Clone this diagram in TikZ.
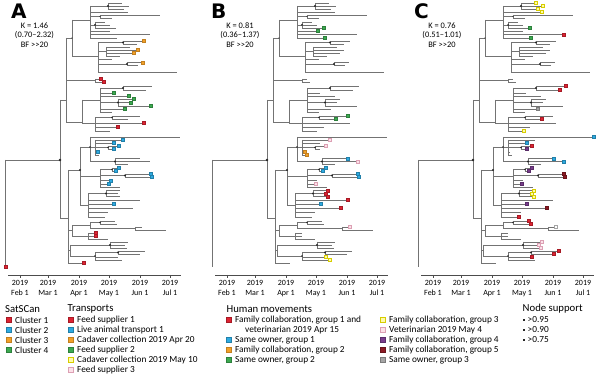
\documentclass[tikz,border=0pt]{standalone}
\usepackage{fontspec}
\setmainfont{Carlito}
\newfontfamily\letterfont{DejaVu Sans}
\definecolor{treegray}{RGB}{115,115,115}
\definecolor{cRed}{RGB}{222,35,50}
\definecolor{cBlue}{RGB}{45,170,225}
\definecolor{cOrange}{RGB}{242,160,40}
\definecolor{cGreen}{RGB}{60,170,80}
\definecolor{cYellowE}{RGB}{215,205,0}
\definecolor{cYellowF}{RGB}{255,250,170}
\definecolor{cPinkE}{RGB}{220,160,180}
\definecolor{cPinkF}{RGB}{252,225,232}
\definecolor{cPurple}{RGB}{120,60,140}
\definecolor{cDRed}{RGB}{140,25,35}
\definecolor{cGray}{RGB}{165,165,165}
\newcommand\hb[3]{\draw[tl] (#1,#3) -- (#2,#3);}
\newcommand\vb[3]{\draw[tl] (#1,#2) -- (#1,#3);}
\newcommand\nd[3]{\fill[ndot] (#1,#2) circle[radius=#3];}
\newcommand\mk[3]{\node[mk,#3] at (#1+1,#2) {};}
\newcommand\drawtree{%
% root and main node
\vb{5}{160}{267}\hb{5}{60}{160}
\vb{60}{100}{218}\hb{60}{66}{100}\hb{60}{68}{218}
% U
\vb{66}{38}{122}\hb{66}{72}{38}\hb{66}{95}{80.5}\hb{66}{82}{122}
% T
\vb{72}{20}{56}\hb{72}{90}{20}\hb{72}{98}{56}
% T1
\vb{90}{6}{38}
\hb{90}{108}{6}\vb{108}{3}{9}\hb{108}{122}{3}\hb{108}{129}{6}\hb{108}{124}{9}
\hb{90}{128}{12}
\hb{90}{100}{16.5}\vb{100}{15}{18}\hb{100}{160}{15}\hb{100}{112}{18}
\hb{90}{95}{25}\vb{95}{22}{28}\hb{95}{105}{22}\hb{95}{110}{25}\hb{95}{116}{28}
\hb{90}{110}{31}\hb{90}{150}{34.5}\hb{90}{117}{38}
% T2
\vb{98}{42.5}{72}
\hb{98}{123}{42.5}\vb{123}{41}{44}\hb{123}{143}{41}\hb{123}{137}{44}
\hb{98}{106}{51.5}\vb{106}{47}{56}\hb{106}{130}{47}\hb{106}{137}{50}\hb{106}{133}{53}\hb{106}{120}{56}
\hb{98}{112}{59}
\hb{98}{127}{64}\vb{127}{62.5}{65.5}\hb{127}{142}{62.5}\hb{127}{138}{65.5}
\hb{98}{177}{72}
% red pair
\vb{95}{79}{82}\hb{95}{100}{79}\hb{95}{103}{82}
% G
\vb{82}{100}{123}\hb{82}{100}{100}\hb{82}{95}{123}
\vb{100}{88}{112}
\hb{100}{123}{88}\vb{123}{86}{90}\hb{123}{152}{86}\hb{123}{146}{90}
\hb{100}{113}{93}\hb{100}{128}{96}
\hb{100}{118}{102.5}\vb{118}{99}{106}\hb{118}{133}{99}\hb{118}{130}{102.5}\hb{118}{150}{106}
\hb{100}{124}{109}\hb{100}{112}{112}
\vb{95}{117.5}{131}
\hb{95}{112}{117.5}\vb{112}{116}{119}\hb{112}{140}{116}\hb{112}{128}{119}
\hb{95}{143}{123}\hb{95}{117}{127}\hb{95}{110}{131}
% L
\vb{68}{170}{263}\hb{68}{80}{170}\hb{68}{72}{230.5}\hb{68}{70}{250}\hb{68}{83}{263}
% B
\vb{80}{147}{205}\hb{80}{90}{147}\hb{80}{100}{176}\hb{80}{88}{205}
\vb{90}{137}{161.5}\hb{90}{180}{137}\hb{90}{95}{147}\hb{90}{115}{161.5}
\vb{95}{140}{155}\hb{95}{122}{140}\hb{95}{113}{143}\hb{95}{108}{147.5}
\vb{108}{146}{149}\hb{108}{118}{146}\hb{108}{113}{149}
\hb{95}{97}{152}\hb{95}{99}{155}
\vb{115}{158.5}{164.5}\hb{115}{140}{158.5}\hb{115}{150}{161.5}\hb{115}{128}{164.5}
\vb{100}{169.5}{187}
\hb{100}{112}{169.5}\vb{112}{168}{171}\hb{112}{118}{168}\hb{112}{115}{171}
\hb{100}{125}{175.5}\vb{125}{174}{177}\hb{125}{150}{174}\hb{125}{151}{177}
\hb{100}{110}{180.5}\hb{100}{108}{184}\hb{100}{120}{187}
\vb{88}{193.5}{217}
\hb{88}{106}{193.5}\vb{106}{190.5}{196.5}\hb{106}{120}{190.5}\hb{106}{118}{193.5}\hb{106}{120}{196.5}
\hb{88}{140}{200}\hb{88}{113}{204}\hb{88}{133}{208}\hb{88}{108}{212}\hb{88}{105}{217}
% Mid
\vb{72}{225.5}{236}\hb{72}{90}{225.5}\hb{72}{88}{236}
\vb{90}{222.5}{228.5}
\hb{90}{100}{222.5}\vb{100}{221}{224}\hb{100}{115}{221}\hb{100}{117}{224}
\hb{90}{135}{228.5}\vb{135}{227}{230}\hb{135}{142}{227}\hb{135}{166}{230}
\vb{88}{233}{239}\hb{88}{95}{233}\hb{88}{95}{236}\hb{88}{108}{239}
% Low
\vb{70}{245}{256}
\hb{70}{110}{245}\vb{110}{242}{248}\hb{110}{128}{242}\hb{110}{125}{245}\hb{110}{127}{248}
\hb{70}{95}{256}\vb{95}{252.5}{260}
\hb{95}{118}{252.5}\vb{118}{251}{254}\hb{118}{145}{251}\hb{118}{140}{254}
\hb{95}{118}{257}\hb{95}{122}{260}
% support dots
\nd{60}{160}{1.4}\nd{108}{6}{1.1}\nd{95}{25}{1.0}\nd{100}{16.5}{0.7}
\nd{123}{42.5}{1.1}\nd{127}{64}{1.1}\nd{123}{88}{1.1}\nd{118}{102.5}{1.1}
\nd{112}{117.5}{0.8}\nd{80}{170}{1.2}\nd{108}{147.5}{0.9}\nd{115}{161.5}{1.1}
\nd{112}{169.5}{0.9}\nd{125}{175.5}{1.1}\nd{106}{193.5}{1.1}\nd{100}{222.5}{0.9}
\nd{110}{245}{1.1}\nd{118}{252.5}{1.1}\nd{95}{256}{0.8}\nd{72}{38}{0.7}\nd{90}{147}{0.8}
}
\newcommand\drawaxis{%
\draw[axisline] (8,275) -- (181,275);
\foreach \x/\m in {20/Feb 1,48/Mar 1,79/Apr 1,109/May 1,140/Jun 1,170/Jul 1}{%
  \draw[axisline] (\x,275) -- (\x,278);
  \node[axl] at (\x,280.5) {2019\\\m};}
}
\begin{document}
\begin{tikzpicture}[x=1pt,y=-1pt,
  tl/.style={draw=treegray,line width=0.55pt},
  axisline/.style={draw=black!70,line width=0.6pt},
  ndot/.style={fill=black!85},
  mk/.style={rectangle,inner sep=0pt,minimum size=3pt,line width=0.35pt},
  lg/.style={rectangle,inner sep=0pt,minimum size=5pt,line width=0.5pt},
  mred/.style={fill=cRed,draw=cRed!75!black},
  mblue/.style={fill=cBlue,draw=cBlue!75!black},
  morange/.style={fill=cOrange,draw=cOrange!80!black},
  mgreen/.style={fill=cGreen,draw=cGreen!75!black},
  myellow/.style={fill=cYellowF,draw=cYellowE},
  mpink/.style={fill=cPinkF,draw=cPinkE},
  mpurple/.style={fill=cPurple,draw=cPurple!75!black},
  mdred/.style={fill=cDRed,draw=cDRed!75!black},
  mgray/.style={fill=cGray,draw=cGray!75!black},
  mopen/.style={fill=white,draw=cGray},
  axl/.style={font=\fontsize{8}{9.3}\selectfont,align=center,inner sep=0pt,anchor=north},
  txt/.style={font=\fontsize{9.3}{11}\selectfont,anchor=west,inner sep=0pt},
  hdr/.style={font=\fontsize{10.7}{12}\selectfont,anchor=west,inner sep=0pt},
  plet/.style={font=\letterfont\bfseries\fontsize{20}{21}\selectfont,inner sep=0pt,text depth=0pt,anchor=base west},
  kst/.style={font=\fontsize{8.4}{9.5}\selectfont,align=center,inner sep=0pt,anchor=north}]
\useasboundingbox (0,0) rectangle (600,387);
\fill[white] (0,0) rectangle (600,387);
% ---------- Panel A ----------
\node[plet] (letA) at (11,19) {A};
\node[kst] (kA) at (34.5,22.5) {K = 1.46\\(0.70–2.32)\\BF >{}>20};
\begin{scope}
\drawtree
\drawaxis
\mk{5}{267}{mred}\mk{100}{79}{mred}\mk{103}{82}{mred}\mk{143}{123}{mred}\mk{117}{127}{mred}
\mk{95}{233}{mred}\mk{95}{236}{mred}\mk{83}{263}{mred}
\mk{143}{41}{morange}\mk{137}{50}{morange}\mk{133}{53}{morange}\mk{142}{62.5}{morange}
\mk{113}{93}{mgreen}\mk{128}{96}{mgreen}\mk{133}{99}{mgreen}\mk{130}{102.5}{mgreen}\mk{150}{106}{mgreen}\mk{124}{109}{mgreen}
\mk{122}{140}{mblue}\mk{113}{143}{mblue}\mk{118}{146}{mblue}\mk{113}{149}{mblue}\mk{97}{152}{mblue}
\mk{118}{168}{mblue}\mk{115}{171}{mblue}\mk{150}{174}{mblue}\mk{151}{177}{mblue}\mk{110}{180.5}{mblue}\mk{108}{184}{mblue}\mk{113}{204}{mblue}
\end{scope}
% ---------- Panel B ----------
\node[plet] (letB) at (211,19) {B};
\node[kst] (kB) at (240,22.5) {K = 0.81\\(0.36–1.37)\\BF >{}>20};
\begin{scope}[xshift=207pt]
\drawtree
\drawaxis
\mk{116}{28}{mgreen}\mk{110}{31}{mgreen}\mk{117}{38}{mgreen}\mk{140}{116}{mgreen}\mk{128}{119}{mgreen}
\mk{97}{152}{morange}\mk{99}{155}{morange}
\mk{122}{140}{mpink}\mk{150}{161.5}{mpink}\mk{108}{184}{mpink}\mk{142}{227}{mpink}\mk{118}{146}{mpink}
\mk{140}{158.5}{mblue}\mk{118}{168}{mblue}\mk{115}{171}{mblue}\mk{150}{174}{mblue}\mk{151}{177}{mblue}\mk{113}{204}{mblue}
\mk{120}{190.5}{mred}\mk{118}{193.5}{mred}\mk{120}{196.5}{mred}\mk{140}{200}{mred}\mk{133}{208}{mred}
\mk{118}{257}{myellow}\mk{122}{260}{myellow}
\end{scope}
% ---------- Panel C ----------
\node[plet] (letC) at (414,19) {C};
\node[kst] (kC) at (442,22.5) {K = 0.76\\(0.51–1.01)\\BF >{}>20};
\begin{scope}[xshift=413pt]
\drawtree
\drawaxis
\mk{122}{3}{myellow}\mk{129}{6}{myellow}\mk{124}{9}{myellow}\mk{128}{12}{myellow}\mk{110}{131}{myellow}
\mk{120}{190.5}{myellow}\mk{118}{193.5}{myellow}\mk{120}{196.5}{myellow}
\mk{116}{28}{mgreen}\mk{117}{38}{mgreen}
\mk{150}{34.5}{mred}\mk{152}{86}{mred}\mk{146}{90}{mred}\mk{128}{119}{mred}\mk{118}{146}{mred}
\mk{105}{217}{mred}\mk{115}{221}{mred}\mk{117}{224}{mred}\mk{145}{251}{mred}\mk{140}{254}{mred}\mk{118}{257}{mred}
\mk{180}{137}{mblue}\mk{113}{143}{mblue}\mk{140}{158.5}{mblue}\mk{150}{161.5}{mblue}
\mk{118}{168}{mpurple}\mk{115}{171}{mpurple}\mk{108}{184}{mpurple}\mk{113}{204}{mpurple}\mk{113}{149}{mpurple}
\mk{150}{174}{mdred}\mk{151}{177}{mdred}\mk{133}{208}{mdred}
\mk{142}{227}{mopen}\mk{124}{109}{mgray}
\mk{128}{242}{mpink}\mk{125}{245}{mpink}\mk{127}{248}{mpink}
\end{scope}
% ---------- Legends ----------
\node[hdr] (hSat) at (5,309) {SatSCan};
\foreach \i/\t/\s in {0/Cluster 1/mred,1/Cluster 2/mblue,2/Cluster 3/morange,3/Cluster 4/mgreen}{%
  \node[lg,\s] (ls\i) at (9,320+10*\i) {};
  \node[txt] (lt\i) at (15,320+10*\i) {\t};}
\node[hdr] (hTr) at (67.5,309) {Transports};
\foreach \i/\t/\s in {0/Feed supplier 1/mred,1/Live animal transport 1/mblue,2/Cadaver collection 2019 Apr 20/morange,3/Feed supplier 2/mgreen,4/Cadaver collection 2019 May 10/myellow,5/Feed supplier 3/mpink}{%
  \node[lg,\s] (ms\i) at (71,320+10*\i) {};
  \node[txt] (mt\i) at (77,320+10*\i) {\t};}
\node[hdr] (hHm) at (226.5,309) {Human movements};
\node[lg,mred] (hs0) at (229,320) {};
\node[txt] (ht0) at (235,320) {Family collaboration, group 1 and};
\node[txt] (ht0b) at (245,330) {veterinarian 2019 Apr 15};
\foreach \i/\t/\s in {2/Same owner{,} group 1/mblue,3/Family collaboration{,} group 2/morange,4/Same owner{,} group 2/mgreen}{%
  \node[lg,\s] (hs\i) at (229,320+10*\i) {};
  \node[txt] (ht\i) at (235,320+10*\i) {\t};}
\foreach \i/\t/\s in {0/Family collaboration{,} group 3/myellow,1/Veterinarian 2019 May 4/mpink,2/Family collaboration{,} group 4/mpurple,3/Family collaboration{,} group 5/mdred,4/Same owner{,} group 3/mgray}{%
  \node[lg,\s] (rs\i) at (383,320+10*\i) {};
  \node[txt] (rt\i) at (389,320+10*\i) {\t};}
\node[hdr] (hNs) at (522.5,309) {Node support};
\fill[black!85] (522.8,318.8) rectangle (525.2,321.2);
\fill[black!85] (523.1,329.1) rectangle (524.9,330.9);
\fill[black!85] (523.4,339.4) rectangle (524.6,340.6);
\node[txt] (ns0) at (527.5,320) {>0.95};
\node[txt] (ns1) at (527.5,330) {>0.90};
\node[txt] (ns2) at (527.5,340) {>0.75};
\end{tikzpicture}
\end{document}
